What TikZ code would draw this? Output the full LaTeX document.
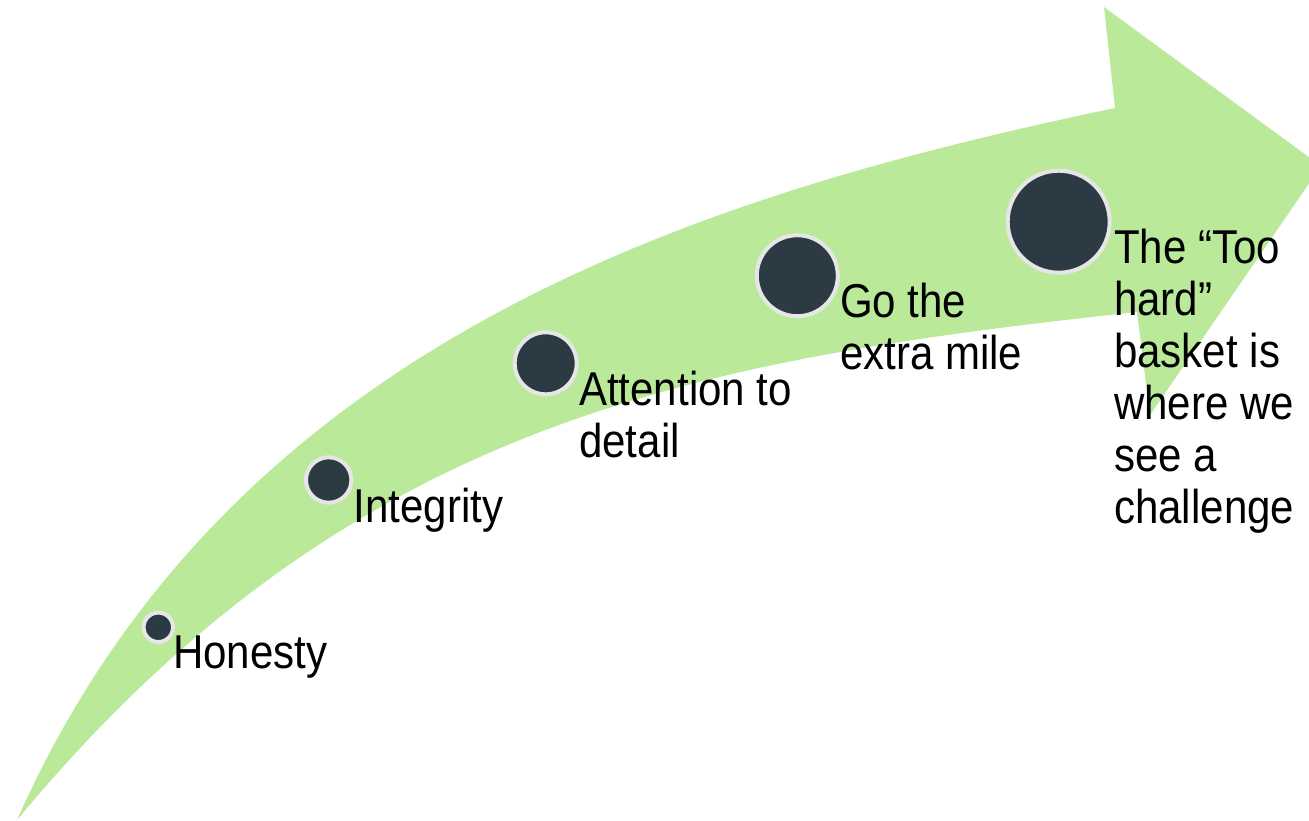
\documentclass[tikz,border=0pt]{standalone}
\usepackage{fontspec}
\setmainfont[FakeStretch=0.885]{Liberation Sans}
\definecolor{arrowgreen}{HTML}{B9E999}
\definecolor{dotdark}{HTML}{2C3B43}
\definecolor{dotrim}{HTML}{E6E6E6}
\begin{document}
\begin{tikzpicture}[x=1pt,y=-1pt,
  dot/.style={circle, fill=dotdark, draw=dotrim, line width=4pt, inner sep=0pt},
  lbl/.style={anchor=base west, inner sep=0pt, align=left, font=\fontsize{47.5}{52}\selectfont}]
\useasboundingbox (0,0) rectangle (1309,820);
\begin{scope}
\clip (0,0) rectangle (1309,820);
\fill[arrowgreen] (17,820) .. controls (230,340) and (700,195) .. (1115,108)
  -- (1104,7) -- (1321,166) -- (1150,415) -- (1137,312)
  .. controls (693,360) and (349,420) .. (17,820) -- cycle;
\end{scope}
\node[dot, minimum size=29.4pt] (d1) at (158.3,627.3) {};
\node[dot, minimum size=45.4pt] (d2) at (328.7,480) {};
\node[dot, minimum size=62pt] (d3) at (545.7,363.3) {};
\node[dot, minimum size=81pt] (d4) at (797.3,275.7) {};
\node[dot, minimum size=102pt] (d5) at (1058.7,221.7) {};
\node[lbl] (t1) at (173,668) {Honesty};
\node[lbl] (t2) at (353.5,522) {Integrity};
\node[lbl] (t3) at (579,457) {Attention to\\detail};
\node[lbl] (t4) at (840,369) {Go the\\extra mile};
\node[lbl] (t5) at (1114,523) {The “Too\\hard”\\basket is\\where we\\see a\\challenge};
\end{tikzpicture}
\end{document}
